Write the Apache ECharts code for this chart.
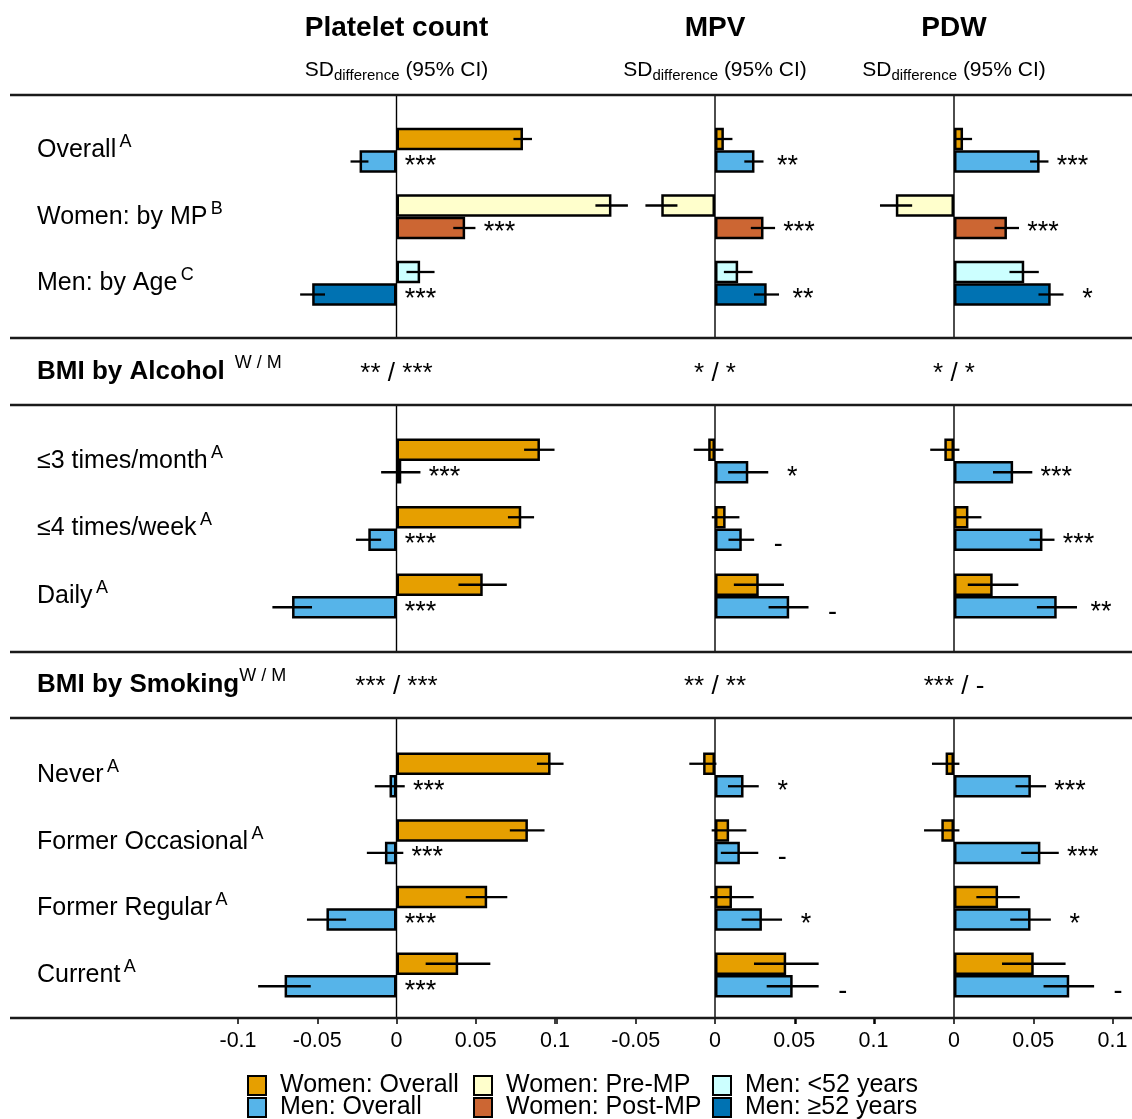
<!DOCTYPE html>
<html><head><meta charset="utf-8">
<script src="https://cdn.jsdelivr.net/npm/echarts@6/dist/echarts.min.js"></script>
<style>html,body{margin:0;padding:0;background:#fff}#c{width:1132px;height:1119px}</style>
</head><body><div id="c"></div>
<script>
const FONT = '"Liberation Sans", Arial, Helvetica, sans-serif';

// ---------- labels ----------
const panelTitles = ['Platelet count', 'MPV', 'PDW'];
const tickShown = [[-0.1, -0.05, 0, 0.05, 0.1], [-0.05, 0, 0.05, 0.1], [0, 0.05, 0.1]];
const groupNames = ['Women: Overall', 'Women: Pre-MP', 'Men: <52 years', 'Men: Overall', 'Women: Post-MP', 'Men: ≥52 years'];
const groupColors = ['#E69F00', '#FFFFCC', '#CCFFFF', '#56B4E9', '#CC6633', '#0072B2'];

const s1Rows = ['Overall', 'Women: by MP', 'Men: by Age'];
const s1Sups = ['A', 'B', 'C'];
const alcoholRows = ['≤3 times/month', '≤4 times/week', 'Daily'];
const alcoholSups = ['A', 'A', 'A'];
const smokingRows = ['Never', 'Former Occasional', 'Former Regular', 'Current'];
const smokingSups = ['A', 'A', 'A', 'A'];
const headerLabels = ['BMI by Alcohol', 'BMI by Smoking'];
const headerSups = ['  W / M', 'W / M'];

// ---------- section 1 values, per panel [Platelet, MPV, PDW] ----------
const womenOverall = [0.0798, 0.0056, 0.0057];
const womenOverallLo = [0.0738, 0.0005, 0.0003];
const womenOverallHi = [0.0855, 0.0110, 0.0114];
const menOverall = [-0.0233, 0.0249, 0.0540];
const menOverallLo = [-0.0290, 0.0185, 0.0480];
const menOverallHi = [-0.0177, 0.0306, 0.0596];
const womenPre = [0.1356, -0.0339, -0.0367];
const womenPreLo = [0.1255, -0.0439, -0.0467];
const womenPreHi = [0.1460, -0.0237, -0.0264];
const womenPost = [0.0433, 0.0306, 0.0334];
const womenPostLo = [0.0358, 0.0226, 0.0256];
const womenPostHi = [0.0498, 0.0379, 0.0410];
const menYoung = [0.0149, 0.0146, 0.0443];
const menYoungLo = [0.0063, 0.0056, 0.0350];
const menYoungHi = [0.0240, 0.0237, 0.0535];
const menOld = [-0.0532, 0.0326, 0.0610];
const menOldLo = [-0.0608, 0.0246, 0.0533];
const menOldHi = [-0.0451, 0.0404, 0.0691];
const s1Sig = [['***', '***', '***'], ['**', '***', '**'], ['***', '***', '*']];

// ---------- alcohol, per panel then per row ----------
const alcWomen = [[0.0905, 0.0787, 0.0544], [-0.0043, 0.0067, 0.0276], [-0.0061, 0.0091, 0.0244]];
const alcWomenLo = [[0.0805, 0.0703, 0.0391], [-0.0134, -0.0020, 0.0119], [-0.0150, 0.0011, 0.0087]];
const alcWomenHi = [[0.0997, 0.0868, 0.0696], [0.0053, 0.0154, 0.0435], [0.0034, 0.0173, 0.0406]];
const alcMen = [[0.0030, -0.0178, -0.0659], [0.0210, 0.0169, 0.0468], [0.0373, 0.0558, 0.0648]];
const alcMenLo = [[-0.0097, -0.0256, -0.0783], [0.0083, 0.0085, 0.0338], [0.0246, 0.0476, 0.0523]];
const alcMenHi = [[0.0151, -0.0097, -0.0533], [0.0336, 0.0247, 0.0590], [0.0494, 0.0634, 0.0776]];
const alcSig = [['***', '***', '***'], ['*', '-', '-'], ['***', '***', '**']];
const alcHeaderSig = ['** / ***', '* / *', '* / *'];

// ---------- smoking, per panel then per row ----------
const smkWomen = [[0.0972, 0.0829, 0.0572, 0.0389], [-0.0075, 0.0089, 0.0107, 0.0449], [-0.0053, -0.0080, 0.0278, 0.0503]];
const smkWomenLo = [[0.0886, 0.0715, 0.0437, 0.0184], [-0.0162, -0.0021, -0.0030, 0.0246], [-0.0139, -0.0189, 0.0141, 0.0303]];
const smkWomenHi = [[0.1054, 0.0934, 0.0699, 0.0592], [0.0009, 0.0198, 0.0244, 0.0654], [0.0034, 0.0034, 0.0415, 0.0704]];
const smkMen = [[-0.0044, -0.0073, -0.0442, -0.0706], [0.0180, 0.0157, 0.0296, 0.0490], [0.0485, 0.0545, 0.0483, 0.0727]];
const smkMenLo = [[-0.0137, -0.0187, -0.0565, -0.0873], [0.0082, 0.0037, 0.0168, 0.0326], [0.0388, 0.0424, 0.0355, 0.0565]];
const smkMenHi = [[0.0052, 0.0043, -0.0318, -0.0541], [0.0276, 0.0273, 0.0423, 0.0654], [0.0581, 0.0661, 0.0611, 0.0884]];
const smkSig = [['***', '***', '***', '***'], ['*', '-', '*', '-'], ['***', '***', '*', '-']];
const smkHeaderSig = ['*** / ***', '** / **', '*** / -'];

// ---------- layout ----------
const BAR_W = 22.5;
const panelLeft = [238, 556.5, 795.5], panelW = 317;
const secTop = [117, 427.25, 741.67], secH = [199.5, 202.5, 266.67];
const secSpan = [[95, 338], [405, 652], [718, 1018]];
const rules = [95, 338, 405, 652, 718, 1018];
const headerY = [372, 685];
const zeroX = panelLeft.map(l => l + panelW / 2);

const secRows = [s1Rows, alcoholRows, smokingRows];
const secSups = [s1Sups, alcoholSups, smokingSups];

const grids = [], xAxes = [], yAxes = [], series = [];
const barBase = { type: 'bar', barWidth: BAR_W, barGap: '0%', clip: false,
  itemStyle: { borderColor: '#000', borderWidth: 2.5 }, emphasis: { disabled: true } };

function ciRenderer(sig) {
  return function (params, api) {
    const lo = api.value(0), hi = api.value(1), r = api.value(2), slot = api.value(3);
    const a = api.coord([lo, r]), b = api.coord([hi, r]), z = api.coord([0, r]);
    const y = a[1] + slot * BAR_W / 2;
    const children = [{ type: 'line', shape: { x1: a[0], y1: y, x2: b[0], y2: y },
      style: { stroke: '#000', lineWidth: 2.3 } }];
    if (slot > 0 && sig[r]) {
      children.push({ type: 'text', x: Math.max(b[0], z[0]) + 24, y: y + 5,
        style: { text: sig[r], fontSize: 27, fontFamily: FONT, fill: '#000', align: 'center', verticalAlign: 'middle' } });
    }
    return { type: 'group', children };
  };
}

for (let s = 0; s < 3; s++) {
  for (let p = 0; p < 3; p++) {
    const gi = grids.length;
    const rows = secRows[s], sups = secSups[s];
    grids.push({ left: panelLeft[p], width: panelW, top: secTop[s], height: secH[s] });
    xAxes.push({
      type: 'value', gridIndex: gi, min: -0.1, max: 0.1, interval: 0.05, show: s === 2,
      position: 'bottom', offset: 1018 - (secTop[2] + secH[2]),
      axisLine: { show: false }, splitLine: { show: false },
      axisTick: { show: true, length: 6, lineStyle: { color: '#000', width: 1.5 } },
      axisLabel: { show: true, color: '#000', fontSize: 21.5, fontFamily: FONT, margin: 12,
        showMinLabel: true, showMaxLabel: true,
        formatter: v => tickShown[p].some(t => Math.abs(t - v) < 1e-9) ? String(+v.toFixed(2)) : '' }
    });
    yAxes.push({
      type: 'category', gridIndex: gi, inverse: true, data: rows,
      axisLine: { show: false, onZero: false }, axisTick: { show: false },
      axisLabel: { show: p === 0, align: 'left', margin: panelLeft[0] - 37,
        formatter: (v, i) => '{n|' + v + '} {s|' + sups[i] + '}',
        rich: { n: { fontSize: 25, fontFamily: FONT, color: '#000', lineHeight: 34 },
                s: { fontSize: 18, fontFamily: FONT, color: '#000', lineHeight: 18, verticalAlign: 'top' } } }
    });
    let ciData = [], sig;
    if (s === 0) {
      const topVals = [womenOverall, womenPre, menYoung];
      const botVals = [menOverall, womenPost, menOld];
      const topLo = [womenOverallLo, womenPreLo, menYoungLo], topHi = [womenOverallHi, womenPreHi, menYoungHi];
      const botLo = [menOverallLo, womenPostLo, menOldLo], botHi = [menOverallHi, womenPostHi, menOldHi];
      const order = [[0, 3], [1, 4], [2, 5]]; // [top group, bottom group] for each row
      order.forEach((pair, r) => {
        series.push(Object.assign({}, barBase, { name: groupNames[pair[0]], stack: 'top' + gi,
          xAxisIndex: gi, yAxisIndex: gi, itemStyle: Object.assign({}, barBase.itemStyle, { color: groupColors[pair[0]] }),
          data: rows.map((_, i) => i === r ? topVals[r][p] : '-') }));
      });
      order.forEach((pair, r) => {
        series.push(Object.assign({}, barBase, { name: groupNames[pair[1]], stack: 'bot' + gi,
          xAxisIndex: gi, yAxisIndex: gi, itemStyle: Object.assign({}, barBase.itemStyle, { color: groupColors[pair[1]] }),
          data: rows.map((_, i) => i === r ? botVals[r][p] : '-') }));
      });
      rows.forEach((_, r) => {
        ciData.push([topLo[r][p], topHi[r][p], r, -1]);
        ciData.push([botLo[r][p], botHi[r][p], r, 1]);
      });
      sig = s1Sig[p];
    } else {
      const W = s === 1 ? alcWomen : smkWomen, WL = s === 1 ? alcWomenLo : smkWomenLo, WH = s === 1 ? alcWomenHi : smkWomenHi;
      const M = s === 1 ? alcMen : smkMen, ML = s === 1 ? alcMenLo : smkMenLo, MH = s === 1 ? alcMenHi : smkMenHi;
      series.push(Object.assign({}, barBase, { name: groupNames[0], stack: 'top' + gi, xAxisIndex: gi, yAxisIndex: gi,
        itemStyle: Object.assign({}, barBase.itemStyle, { color: groupColors[0] }), data: W[p] }));
      series.push(Object.assign({}, barBase, { name: groupNames[3], stack: 'bot' + gi, xAxisIndex: gi, yAxisIndex: gi,
        itemStyle: Object.assign({}, barBase.itemStyle, { color: groupColors[3] }), data: M[p] }));
      rows.forEach((_, r) => {
        ciData.push([WL[p][r], WH[p][r], r, -1]);
        ciData.push([ML[p][r], MH[p][r], r, 1]);
      });
      sig = (s === 1 ? alcSig : smkSig)[p];
    }
    series.push({ type: 'custom', name: 'ci' + gi, xAxisIndex: gi, yAxisIndex: gi, z: 5, clip: false,
      encode: { x: [0, 1], y: 2 }, renderItem: ciRenderer(sig), data: ciData, silent: true });
  }
}

// ---------- decorations ----------
const graphic = [];
rules.forEach(y => graphic.push({ type: 'line', silent: true, z: 10,
  shape: { x1: 10, y1: y, x2: 1132, y2: y }, style: { stroke: '#1a1a1a', lineWidth: 2.5 } }));
secSpan.forEach(sp => zeroX.forEach(zx => graphic.push({ type: 'line', silent: true, z: 1,
  shape: { x1: zx, y1: sp[0], x2: zx, y2: sp[1] }, style: { stroke: '#000', lineWidth: 1.4 } })));
panelTitles.forEach((t, p) => {
  graphic.push({ type: 'text', x: zeroX[p], y: 28, silent: true,
    style: { text: t, fontSize: 28, fontWeight: 'bold', fontFamily: FONT, fill: '#000', align: 'center', verticalAlign: 'middle', textAlign: 'center', textVerticalAlign: 'middle' } });
  graphic.push({ type: 'text', x: zeroX[p], y: 70, silent: true,
    style: { text: '{m|SD}{s|difference}{m| (95% CI)}', align: 'center', verticalAlign: 'middle', textAlign: 'center', textVerticalAlign: 'middle',
      rich: { m: { fontSize: 21, fontFamily: FONT, fill: '#000', lineHeight: 26 },
              s: { fontSize: 15, fontFamily: FONT, fill: '#000', lineHeight: 15, verticalAlign: 'bottom' } } } });
});
headerLabels.forEach((h, i) => {
  graphic.push({ type: 'text', x: 37, y: headerY[i], silent: true,
    style: { text: '{b|' + h + '}{s|' + headerSups[i] + '}', align: 'left', verticalAlign: 'middle', textAlign: 'left', textVerticalAlign: 'middle',
      rich: { b: { fontSize: 26, fontWeight: 'bold', fontFamily: FONT, fill: '#000', lineHeight: 36 },
              s: { fontSize: 18, fontFamily: FONT, fill: '#000', lineHeight: 18, verticalAlign: 'top' } } } });
  const hs = i === 0 ? alcHeaderSig : smkHeaderSig;
  hs.forEach((t, p) => graphic.push({ type: 'text', x: zeroX[p], y: headerY[i] + 2, silent: true,
    style: { text: t, fontSize: 26, fontFamily: FONT, fill: '#000', align: 'center', verticalAlign: 'middle', textAlign: 'center', textVerticalAlign: 'middle' } }));
});

// ---------- legend ----------
const legendRows = [[groupNames[0], groupNames[1], groupNames[2]], [groupNames[3], groupNames[4], groupNames[5]]];
const colW = [193, 206, 200];
const legendRich = {};
colW.forEach((w, c) => legendRich['c' + c] = { width: w, padding: [0, 0, 0, 9], fontSize: 25, fontFamily: FONT, color: '#000', lineHeight: 22 });
const legends = legendRows.map((row, k) => ({
  data: row, left: 247, top: k === 0 ? 1073 : 1095, orient: 'horizontal', padding: 0,
  itemWidth: 18, itemHeight: 19, itemGap: 0, icon: 'rect', selectedMode: false,
  itemStyle: { borderColor: '#000', borderWidth: 2 },
  formatter: name => '{c' + row.indexOf(name) + '|' + name + '}',
  textStyle: { fontSize: 25, fontFamily: FONT, color: '#000', rich: legendRich }
}));

const chart = echarts.init(document.getElementById('c'), null, { renderer: 'canvas' });
chart.setOption({
  animation: false, backgroundColor: '#fff',
  grid: grids, xAxis: xAxes, yAxis: yAxes, series, legend: legends, graphic
});
</script></body></html>
